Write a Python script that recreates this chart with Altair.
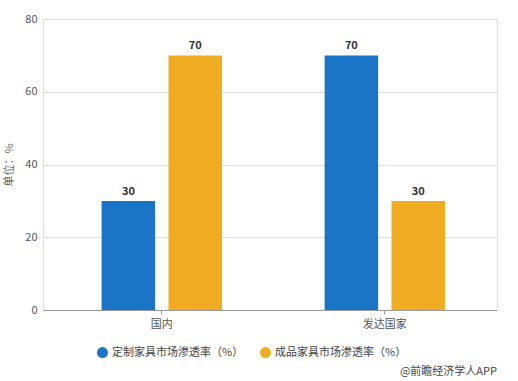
import altair as alt
import pandas as pd

categories = ["国内", "发达国家"]
series = ["定制家具市场渗透率（%）", "成品家具市场渗透率（%）"]
custom_vals = [30, 70]
finished_vals = [70, 30]
colors = ["#1a75c6", "#f0ad24"]
y_ticks = [0, 20, 40, 60, 80]

rows = []
for i, c in enumerate(categories):
    rows.append({"cat": c, "series": series[0], "value": custom_vals[i]})
    rows.append({"cat": c, "series": series[1], "value": finished_vals[i]})
df = pd.DataFrame(rows)

FONT = "Noto Sans CJK SC"

x = alt.X("cat:N", sort=categories, title=None,
          scale=alt.Scale(paddingInner=0.46, paddingOuter=0.248, align=0.53),
          axis=alt.Axis(labelAngle=0, labelColor="#555", labelFontSize=11, labelFont=FONT,
                        domainColor="#999", tickColor="#999", tickSize=4, labelPadding=4))
xo = alt.XOffset("series:N", sort=series, scale=alt.Scale(paddingInner=0.2, paddingOuter=0))
y = alt.Y("value:Q", title="单位：%",
          scale=alt.Scale(domain=[0, 80]),
          axis=alt.Axis(values=y_ticks, domain=False, ticks=False, labelColor="#555",
                        labelFontSize=11, labelPadding=6, gridColor="#dddddd",
                        titleColor="#666", titleFont=FONT, titleFontSize=11,
                        titleFontWeight="normal", titlePadding=10))
color = alt.Color("series:N", sort=series, scale=alt.Scale(domain=series, range=colors),
                  legend=alt.Legend(title=None, orient="none", legendX=54, legendY=328,
                                    direction="horizontal", symbolType="circle", symbolSize=120,
                                    labelFont=FONT, labelFontSize=11, labelColor="#444",
                                    columnPadding=16, symbolStrokeWidth=0))

base = alt.Chart(df)
bars = base.mark_bar().encode(x=x, xOffset=xo, y=y, color=color)
labels = base.mark_text(dy=-9, fontWeight="bold", fontSize=11, color="#333").encode(
    x=x, xOffset=xo, y=y, text="value:Q")

wm = alt.Chart(pd.DataFrame({"t": ["@前瞻经济学人APP"]})).mark_text(
    align="right", baseline="middle", fontSize=11, color="#444", font=FONT
).encode(x=alt.value(454), y=alt.value(353), text="t:N")

chart = alt.layer(bars, labels, wm).properties(
    width=454, height=291,
    autosize=alt.AutoSizeParams(type="none"),
    padding={"left": 43, "top": 19, "right": 21, "bottom": 71},
).configure_view(stroke=None).configure(font=FONT, background="white")

chart.save("out.html", embed_options={"renderer": "svg", "actions": False})
